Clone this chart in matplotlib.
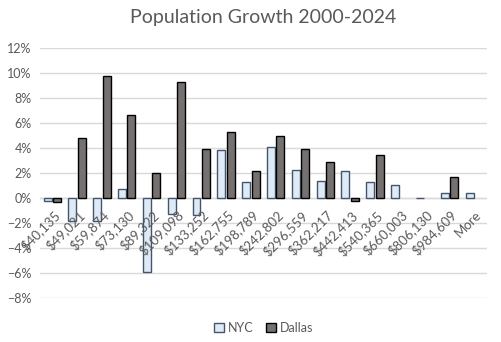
import matplotlib.pyplot as plt
import numpy as np
from matplotlib.ticker import PercentFormatter

plt.rcParams['font.family'] = ['Lato', 'DejaVu Sans']

bins = ['$40,135', '$49,021', '$59,874', '$73,130', '$89,322', '$109,098',
        '$133,252', '$162,755', '$198,789', '$242,802', '$296,559', '$362,217',
        '$442,413', '$540,365', '$660,003', '$806,130', '$984,609', 'More']
nyc = [-0.2, -1.8, -1.8, 0.7, -5.9, -1.3, -1.35, 3.85, 1.3, 4.1, 2.25, 1.35,
       2.15, 1.3, 1.05, 0.05, 0.4, 0.4]
dallas = [-0.3, 4.8, 9.8, 6.65, 2.0, 9.3, 3.95, 5.3, 2.15, 5.0, 3.95, 2.9,
          -0.2, 3.45, 0.0, 0.0, 1.7, 0.0]

grey = '#595959'
x = np.arange(len(bins))
w = 0.32

# zero values are left out, as in the original (no empty outline drawn)
nyc_v = np.array(nyc) / 100
dal_v = np.array(dallas) / 100
nyc_v[nyc_v == 0] = np.nan
dal_v[dal_v == 0] = np.nan

fig = plt.figure(figsize=(5.01, 3.42), dpi=100)
ax = fig.add_axes([0.08, 0.128, 0.892, 0.731])

ax.bar(x - 0.2, nyc_v, w, color='#DEEBF7', edgecolor='#44546A',
       linewidth=1, label='NYC', zorder=3)
ax.bar(x + 0.18, dal_v, w, color='#767171', edgecolor='black',
       linewidth=1, label='Dallas', zorder=3)

ax.set_xlim(-0.5, len(bins) - 0.5)
ax.set_ylim(-0.08, 0.12)
ax.set_yticks(np.arange(-0.08, 0.121, 0.02))
ax.yaxis.set_major_formatter(PercentFormatter(1.0, decimals=0))
ax.tick_params(axis='y', length=0, labelsize=9, labelcolor=grey, pad=6)
ax.set_xticks([])
ax.grid(axis='y', color='#D9D9D9', linewidth=1, zorder=0)
ax.axhline(0, color='#D9D9D9', linewidth=1, zorder=1)
for s in ax.spines.values():
    s.set_visible(False)

for i, lab in enumerate(bins):
    ax.text(i + 0.02, -0.008, lab, rotation=45, ha='right', va='top',
            rotation_mode='anchor', fontsize=9.5, color=grey)

ax.set_title('Population Growth 2000-2024', fontsize=14, color=grey, pad=18)
ax.legend(loc='upper center', bbox_to_anchor=(0.5, -0.05), ncol=2, frameon=False,
          fontsize=9, labelcolor=grey, handlelength=0.8, handleheight=0.8,
          columnspacing=1.0, handletextpad=0.3)

fig.savefig('out.png', dpi=100)
